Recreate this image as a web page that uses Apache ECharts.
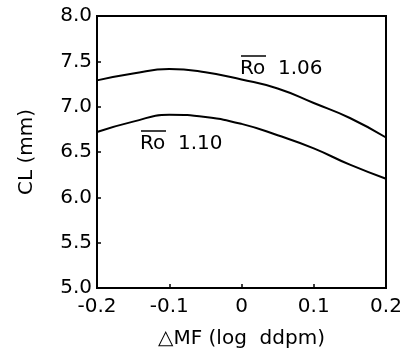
<!DOCTYPE html>
<html>
<head>
<meta charset="utf-8">
<script src="https://cdn.jsdelivr.net/npm/echarts@6/dist/echarts.min.js"></script>
<style>
  html, body { margin: 0; padding: 0; background: #fff; }
  #chart { width: 409px; height: 354px; }
</style>
</head>
<body>
<div id="chart"></div>
<script>
// x positions (ΔMF, log ddpm)
const mfValues = [-0.2, -0.15, -0.1, -0.05, 0, 0.05, 0.1, 0.15, 0.2];
// CL (mm) for each Ro
const clRo106 = [7.29, 7.365, 7.415, 7.38, 7.30, 7.20, 7.04, 6.875, 6.66];
const clRo110 = [6.72, 6.835, 6.91, 6.885, 6.81, 6.685, 6.54, 6.36, 6.205];
const xTicks = [-0.2, -0.1, 0, 0.1, 0.2];
const yTicks = [5.0, 5.5, 6.0, 6.5, 7.0, 7.5, 8.0];

const font = "'DejaVu Sans', sans-serif";

const pairs = (ys) => mfValues.map((x, i) => [x, ys[i]]);

const chart = echarts.init(document.getElementById("chart"));
const option = {
  animation: false,
  grid: {
    left: 97,
    right: 23,
    top: 16,
    bottom: 63,
    show: true,
    borderColor: "#000",
    borderWidth: 2,
  },
  xAxis: {
    type: "value",
    min: -0.2,
    max: 0.2,
    interval: 0.1,
    name: "\u25B3MF (log  ddpm)",
    nameLocation: "middle",
    nameGap: 41,
    nameTextStyle: { color: "#000", fontSize: 20, fontFamily: font },
    axisLine: { show: true, onZero: false, lineStyle: { color: "#000", width: 2 } },
    axisTick: { show: true, inside: true, length: 4, lineStyle: { color: "#000", width: 1.5 } },
    splitLine: { show: false },
    axisLabel: {
      color: "#000",
      fontSize: 20,
      fontFamily: font,
      margin: 9,
      formatter: (v) => {
        const r = Math.round(v * 10) / 10;
        return xTicks.includes(r) ? (r === 0 ? "0" : r.toFixed(1)) : "";
      },
    },
  },
  yAxis: {
    type: "value",
    min: 5.0,
    max: 8.0,
    interval: 0.5,
    name: "CL (mm)",
    nameLocation: "middle",
    nameGap: 60,
    nameTextStyle: { color: "#000", fontSize: 20, fontFamily: font },
    axisLine: { show: true, onZero: false, lineStyle: { color: "#000", width: 2 } },
    axisTick: { show: true, inside: true, length: 4, lineStyle: { color: "#000", width: 1.5 } },
    splitLine: { show: false },
    axisLabel: {
      color: "#000",
      fontSize: 20,
      fontFamily: font,
      margin: 5,
      formatter: (v) => {
        const r = Math.round(v * 10) / 10;
        return yTicks.includes(r) ? r.toFixed(1) : "";
      },
    },
  },
  series: [
    {
      name: "Ro 1.06",
      type: "line",
      smooth: true,
      showSymbol: false,
      lineStyle: { color: "#000", width: 2 },
      data: pairs(clRo106),
    },
    {
      name: "Ro 1.10",
      type: "line",
      smooth: true,
      showSymbol: false,
      lineStyle: { color: "#000", width: 2 },
      data: pairs(clRo110),
    },
  ],
  graphic: [
    {
      type: "text",
      left: 240,
      top: 59,
      style: { text: "Ro  1.06", fill: "#000", font: "20px " + font },
    },
    {
      type: "line",
      shape: { x1: 241, y1: 56, x2: 266, y2: 56 },
      style: { stroke: "#000", lineWidth: 1.5 },
    },
    {
      type: "text",
      left: 140,
      top: 134,
      style: { text: "Ro  1.10", fill: "#000", font: "20px " + font },
    },
    {
      type: "line",
      shape: { x1: 141, y1: 131, x2: 166, y2: 131 },
      style: { stroke: "#000", lineWidth: 1.5 },
    },
  ],
};
chart.setOption(option);
</script>
</body>
</html>
